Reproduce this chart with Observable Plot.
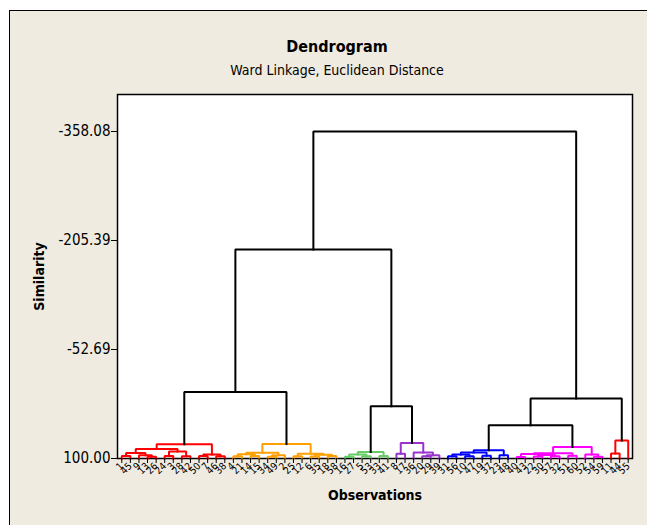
<!DOCTYPE html>
<html>
<head>
<meta charset="utf-8">
<script src="https://cdn.jsdelivr.net/npm/d3@7"></script>
<script src="https://cdn.jsdelivr.net/npm/@observablehq/plot@0.6"></script>
<style>
  html, body { margin: 0; padding: 0; background: #ffffff; overflow: hidden; width: 647px; height: 525px; }
  #panel { position: absolute; left: 9px; top: 10px; width: 700px; height: 600px;
           background: #EFEBE0; border: 1.5px solid #000; box-sizing: border-box; }
  .ttl { position: absolute; left: 0; width: 674px; text-align: center; color: #000;
         font-family: "DejaVu Sans Condensed", "DejaVu Sans", sans-serif; font-stretch: condensed; }
  #title { top: 37px; font-size: 16px; font-weight: bold; }
  #subtitle { top: 62px; font-size: 14px; }
  #chart { position: absolute; left: 0; top: 0; }
</style>
</head>
<body>
<div id="panel"></div>
<div class="ttl" id="title">Dendrogram</div>
<div class="ttl" id="subtitle">Ward Linkage, Euclidean Distance</div>
<div id="chart"></div>
<script>
// Observation labels in dendrogram (leaf) order
const leafLabels = [
  1,45,9,13,26,24,3,28,42,50,7,46,38,
  4,21,14,15,34,49,2,25,12,6,35,18,58,
  16,27,5,53,33,41,
  8,17,36,20,29,39,
  31,56,10,47,19,37,23,48,
  40,43,22,30,57,32,51,60,52,54,59,
  11,44,55
];

// Similarity axis ticks
const yTicks = [100.00, -52.69, -205.39, -358.08];

// Cluster sub-trees: node = [left, right, similarity]; leaf = leaf position index
const redTree = [[[[0,1,96.5],[2,[3,4,97.5],95.5],92.2],[[5,6,96.5],[7,8,97],90.2],86.6],[[9,10,96.5],[11,12,96.8],94.5],80.0];
const orangeTree = [[[[13,14,97],[15,16,96.5],94],[[17,18,97.5],19,95.5],92.0],[[20,21,96.8],[[22,23,97.2],[24,25,96.6],94.8],93.2],79.6];
const greenTree = [[[26,27,97.5],[28,29,97],94.5],[30,31,96.5],91.0];
const purpleTree = [[32,33,93.5],[34,[[35,36,97],37,95.3],91.5],78.2];
const blueTree = [[[[38,39,97],[40,41,96.8],94.5],[42,43,96],91.6],[44,45,95.4],88.4];
const magentaTree = [[[[46,47,97.8],[[48,49,97.2],[50,51,97],95],93.8],[52,53,96],92.6],[54,[55,56,97.5],94.4],83.8];
const red2Tree = [[57,58,93],59,74.8];

// Upper (black) merges
const leftTree = [[redTree, orangeTree, 6.8], [greenTree, purpleTree, 26.8], -192.9];
const rightTree = [[blueTree, magentaTree, 53.4], red2Tree, 16.0];
const rootTree = [leftTree, rightTree, -358.08];

const clusterTrees = [redTree, orangeTree, greenTree, purpleTree, blueTree, magentaTree, red2Tree];
const clusterColors = ["#FF0000", "#FFA000", "#66CC66", "#9933CC", "#0000FF", "#FF00FF", "#FF0000"];

const colorOf = new Map(clusterTrees.map((t, i) => [t, clusterColors[i]]));
const pts = [];
function walk(node, inherited) {
  if (typeof node === "number") return {x: node, y: 100};
  const c = colorOf.get(node) ?? inherited;
  const [l, r, h] = node;
  const a = walk(l, c), b = walk(r, c);
  const id = pts.length;
  pts.push({x: a.x, y: a.y, id, c}, {x: a.x, y: h, id, c}, {x: b.x, y: h, id, c}, {x: b.x, y: b.y, id, c});
  return {x: (a.x + b.x) / 2, y: h};
}
walk(rootTree, "#000000");

const font = '"DejaVu Sans Condensed", "DejaVu Sans", sans-serif';
const idx = d3.range(leafLabels.length);

const chart = Plot.plot({
  width: 647,
  height: 525,
  marginLeft: 117,
  marginRight: 15,
  marginTop: 94,
  marginBottom: 67,
  style: {fontFamily: font, color: "#000", background: "transparent", overflow: "visible"},
  x: {type: "linear", domain: [-0.5, leafLabels.length - 0.5]},
  y: {domain: [100, -409.9]},
  color: {type: "identity"},
  marks: [
    Plot.frame({fill: "white", stroke: "black", strokeWidth: 1.5}),
    Plot.line(pts, {x: "x", y: "y", z: "id", stroke: "c", strokeWidth: 2, strokeLinejoin: "miter", strokeLinecap: "square"}),
    Plot.axisY({ticks: yTicks, tickFormat: d => d.toFixed(2), tickSize: 6, tickPadding: 1, fontSize: 15, label: null, stroke: "black"}),
    Plot.axisX({ticks: idx, tickFormat: i => String(leafLabels[i]), tickSize: 5, tickPadding: 1, tickRotate: -45, fontSize: 10, label: null, stroke: "black"}),
    Plot.text(["Similarity"], {frameAnchor: "left", textAnchor: "middle", dx: -78, rotate: -90, fontSize: 14, fontWeight: "bold", fill: "black"}),
    Plot.text(["Observations"], {frameAnchor: "bottom", textAnchor: "middle", dy: 41, fontSize: 14, fontWeight: "bold", fill: "black"})
  ]
});
document.getElementById("chart").appendChild(chart);
</script>
</body>
</html>
